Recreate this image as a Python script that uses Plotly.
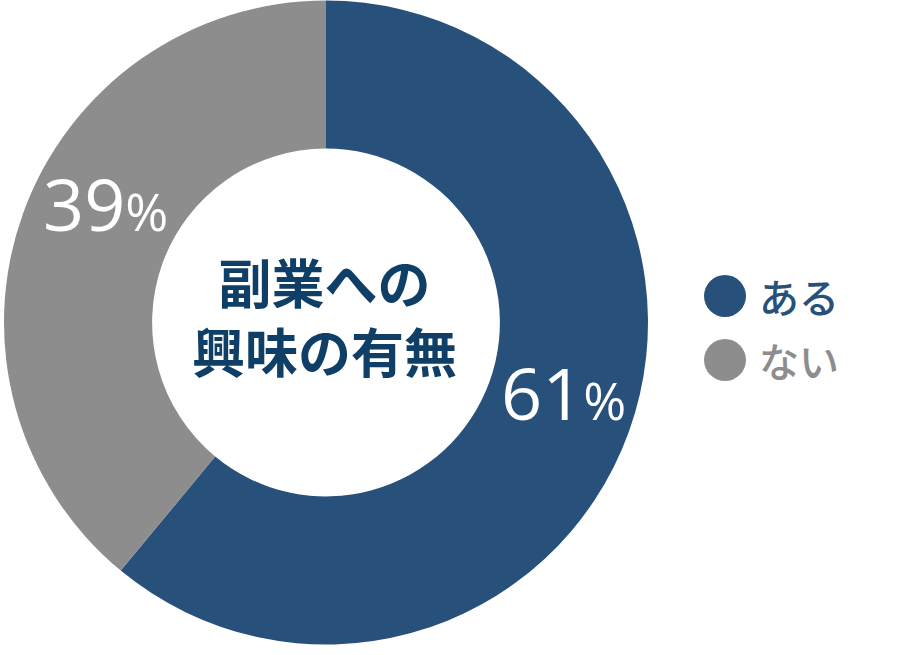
import plotly.graph_objects as go

W, H = 911, 655

labels = ["ある", "ない"]
values = [61, 39]
colors = ["#27507b", "#8d8d8d"]
center_title = "副業への<br>興味の有無"

fig = go.Figure()
fig.add_trace(go.Pie(
    labels=labels,
    values=values,
    hole=0.54,
    sort=False,
    direction="clockwise",
    rotation=0,
    marker=dict(colors=colors, line=dict(width=0)),
    textinfo="none",
    hoverinfo="label+percent",
    showlegend=False,
    domain=dict(x=[4 / W, 648 / W], y=[1 - 645 / H, 1]),
))

def px(x, y):
    return x / W, 1 - y / H

annotations = []
# percentage labels
label_pos = [(563, 392), (105, 203)]
for v, (x, y) in zip(values, label_pos):
    ax, ay = px(x, y)
    annotations.append(dict(
        x=ax, y=ay, xref="paper", yref="paper", showarrow=False,
        xanchor="center", yanchor="middle",
        text=f"{v}<span style='font-size:52px'>%</span>",
        font=dict(family="Open Sans, Roboto, sans-serif", size=72, color="white"),
    ))

# centre title
cx, cy = px(324, 315)
annotations.append(dict(
    x=cx, y=cy, xref="paper", yref="paper", showarrow=False,
    xanchor="center", yanchor="middle", text=center_title,
    font=dict(family="Noto Sans CJK JP", size=53, color="#0f3f66", weight="bold"),
))

# legend
shapes = []
leg_y = [296, 360]
for lab, col, y in zip(labels, colors, leg_y):
    x0, y0 = px(704, y - 21)
    x1, y1 = px(746, y + 21)
    shapes.append(dict(type="circle", xref="paper", yref="paper",
                       x0=x0, x1=x1, y0=y1, y1=y0,
                       fillcolor=col, line=dict(width=0)))
    tx, ty = px(757, y)
    annotations.append(dict(
        x=tx, y=ty, xref="paper", yref="paper", showarrow=False,
        xanchor="left", yanchor="middle", text=lab,
        font=dict(family="Noto Sans CJK JP", size=40, color=col, weight=500),
    ))

fig.update_layout(
    width=W, height=H,
    margin=dict(l=0, r=0, t=0, b=0),
    paper_bgcolor="white", plot_bgcolor="white",
    annotations=annotations, shapes=shapes,
)

fig.write_html(
    "out.html",
    config={"displayModeBar": False},
    post_script="document.body.style.margin='0';document.body.style.overflow='hidden';",
)
